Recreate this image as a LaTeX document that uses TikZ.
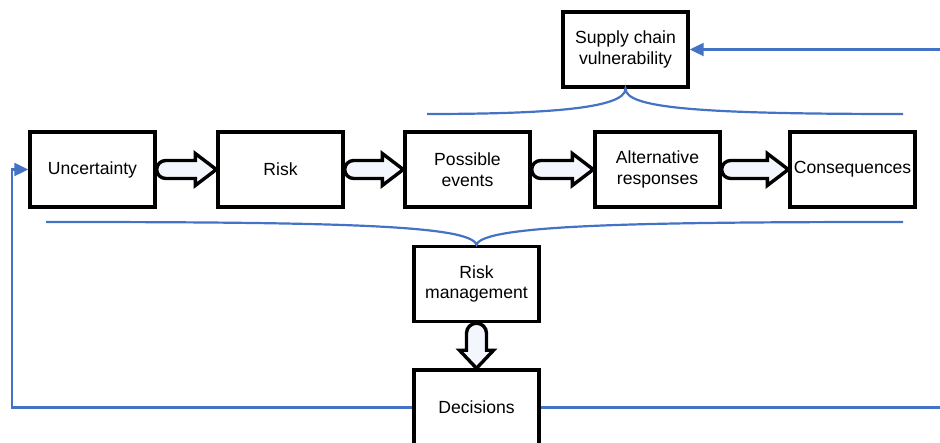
\documentclass[tikz,border=0pt]{standalone}
\usepackage{fontspec}
\setmainfont{Liberation Sans}
\usetikzlibrary{calc,arrows.meta}

\definecolor{linkblue}{HTML}{4472C4}
\definecolor{arrowfill}{HTML}{F3F6FC}

\tikzset{
  box/.style={draw=black, line width=3.4pt, fill=white, minimum width=125pt,
    minimum height=75pt, inner sep=2pt, align=center,
    font=\fontsize{17.6}{20.5}\selectfont},
  blockarrow/.style={draw=black, line width=3.4pt, fill=arrowfill, line join=miter},
  link/.style={draw=linkblue, line width=2.2pt},
  linkarrow/.style={link, -{Triangle[length=14pt,width=13pt]}},
}

% horizontal outlined block arrow from the east side of #1 to the west side of #2
\newcommand\harrow[2]{%
  \path[blockarrow]
    ($(#1.east)+(9,9)$) -- ($(#2.west)+(-21,9)$) -- ($(#2.west)+(-21,16)$)
    -- (#2.west) -- ($(#2.west)+(-21,-16)$) -- ($(#2.west)+(-21,-9)$)
    -- ($(#1.east)+(9,-9)$) arc[start angle=270, end angle=90, radius=9] -- cycle;}

\begin{document}
\begin{tikzpicture}[x=1pt, y=1pt]
  \useasboundingbox (0,0) rectangle (940,443);

  % main chain
  \node[box] (sc)   at (625.5,393.5) {Supply chain\\vulnerability};
  \node[box] (unc)  at (92.5,273.5)  {Uncertainty};
  \node[box] (risk) at (280.5,273.5) {Risk};
  \node[box] (pe)   at (467.5,273.5) {Possible\\events};
  \node[box] (ar)   at (657.5,273.5) {Alternative\\responses};
  \node[box] (cons) at (852.5,273.5) {Consequences};
  \node[box] (rm)   at (476.5,159)   {Risk\\management};
  \node[box] (dec)  at (476.5,35.5)  {Decisions};

  % block arrows between the stages
  \harrow{unc}{risk}
  \harrow{risk}{pe}
  \harrow{pe}{ar}
  \harrow{ar}{cons}

  % downward block arrow from risk management to decisions
  \path[blockarrow]
    ($(rm.south)+(-10,-10)$) -- ($(dec.north)+(-10,18)$) -- ($(dec.north)+(-17,18)$)
    -- (dec.north) -- ($(dec.north)+(17,18)$) -- ($(dec.north)+(10,18)$)
    -- ($(rm.south)+(10,-10)$) arc[start angle=0, end angle=180, radius=10] -- cycle;

  % brace under supply chain vulnerability
  \coordinate (tbL) at (427,329);
  \coordinate (tbR) at (903,329);
  \draw[link] (tbL) .. controls (545,329) and ($(sc.south)+(0,-20)$) .. (sc.south)
              .. controls ($(sc.south)+(0,-20)$) and (705,329) .. (tbR);

  % brace above risk management
  \coordinate (lbL) at (46,221);
  \coordinate (lbR) at (903,221);
  \draw[link] (lbL) .. controls (330,221) and ($(rm.north)+(-6,20)$) .. (rm.north)
              .. controls ($(rm.north)+(6,20)$) and (640,221) .. (lbR);

  % feedback loops
  \coordinate (fbx) at (12,0);
  \coordinate (rin) at (940,407 |- sc.east);
  \coordinate (rout) at (940,0 |- dec.east);
  \draw[linkarrow] (dec.west) -- (dec.west -| fbx) |- (unc.west);
  \draw[link] (dec.east) -- (rout);
  \draw[linkarrow] (rin) -- (sc.east);
\end{tikzpicture}
\end{document}
